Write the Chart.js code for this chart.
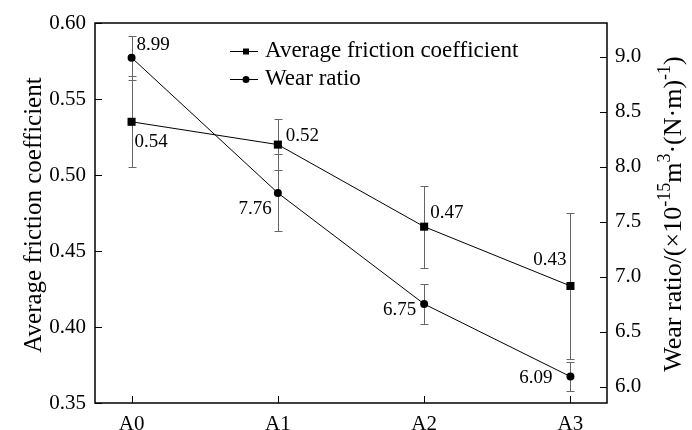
<!DOCTYPE html>
<html>
<head>
<meta charset="utf-8">
<script src="https://cdn.jsdelivr.net/npm/chart.js@4.4.1/dist/chart.umd.min.js"></script>
<style>
    html, body { margin: 0; padding: 0; background: #fff; }
    #wrap { width: 692px; height: 430px; }
</style>
</head>
<body>
<div id="wrap"><canvas id="chart" width="692" height="430"></canvas></div>
<script>
/* data */
const categories = ['A0', 'A1', 'A2', 'A3'];
const frictionValues = [0.535, 0.520, 0.466, 0.427];
const frictionErrors = [0.030, 0.017, 0.027, 0.048];
const frictionLabels = ['0.54', '0.52', '0.47', '0.43'];
const wearValues = [8.99, 7.76, 6.75, 6.09];
const wearErrors = [0.20, 0.35, 0.18, 0.13];
const wearLabels = ['8.99', '7.76', '6.75', '6.09'];
const frictionTicks = [0.35, 0.40, 0.45, 0.50, 0.55, 0.60];
const wearTicks = [6.0, 6.5, 7.0, 7.5, 8.0, 8.5, 9.0];

const FONT = '"Liberation Serif", "Times New Roman", serif';

// where each value label sits relative to its point
const frictionLabelPos = [
    { dx: 3, dy: 20, align: 'left' },
    { dx: 8, dy: -9, align: 'left' },
    { dx: 6, dy: -14, align: 'left' },
    { dx: -4, dy: -26, align: 'right' }
];
const wearLabelPos = [
    { dx: 5, dy: -13, align: 'left' },
    { dx: -6, dy: 16, align: 'right' },
    { dx: -8, dy: 6, align: 'right' },
    { dx: -18, dy: 1, align: 'right' }
];

const extras = {
    id: 'extras',
    beforeDatasetsDraw(chart) {
        const ctx = chart.ctx;
        const errs = [frictionErrors, wearErrors];
        ctx.save();
        ctx.strokeStyle = '#666';
        ctx.lineWidth = 1;
        chart.data.datasets.forEach(function(ds, i) {
            const meta = chart.getDatasetMeta(i);
            const ys = chart.scales[meta.yAxisID];
            meta.data.forEach(function(pt, j) {
                const v = ds.data[j].y;
                const x = Math.round(pt.x) + 0.5;
                const t = Math.round(ys.getPixelForValue(v + errs[i][j])) + 0.5;
                const b = Math.round(ys.getPixelForValue(v - errs[i][j])) + 0.5;
                ctx.beginPath();
                ctx.moveTo(x, t); ctx.lineTo(x, b);
                ctx.moveTo(x - 4, t); ctx.lineTo(x + 4, t);
                ctx.moveTo(x - 4, b); ctx.lineTo(x + 4, b);
                ctx.stroke();
            });
        });
        ctx.restore();
    },
    afterDatasetsDraw(chart) {
        const ctx = chart.ctx;
        const labels = [frictionLabels, wearLabels];
        const pos = [frictionLabelPos, wearLabelPos];
        ctx.save();
        ctx.font = '19px ' + FONT;
        ctx.fillStyle = '#000';
        ctx.textBaseline = 'middle';
        chart.data.datasets.forEach(function(ds, i) {
            chart.getDatasetMeta(i).data.forEach(function(pt, j) {
                const p = pos[i][j];
                ctx.textAlign = p.align;
                ctx.fillText(labels[i][j], pt.x + p.dx, pt.y + p.dy);
            });
        });
        ctx.restore();
    },
    afterDraw(chart) {
        const ctx = chart.ctx;
        const a = chart.chartArea;
        ctx.save();
        // frame
        ctx.strokeStyle = '#000';
        ctx.lineWidth = 1.5;
        ctx.strokeRect(a.left, a.top, a.right - a.left, a.bottom - a.top);
        // inward ticks
        ctx.lineWidth = 1;
        ctx.beginPath();
        chart.scales.y.ticks.forEach(function(t) {
            const y = Math.round(chart.scales.y.getPixelForValue(t.value)) + 0.5;
            ctx.moveTo(a.left, y); ctx.lineTo(a.left + 7, y);
        });
        chart.scales.y1.ticks.forEach(function(t) {
            const y = Math.round(chart.scales.y1.getPixelForValue(t.value)) + 0.5;
            ctx.moveTo(a.right - 7, y); ctx.lineTo(a.right, y);
        });
        chart.scales.x.ticks.forEach(function(t) {
            const x = Math.round(chart.scales.x.getPixelForValue(t.value)) + 0.5;
            ctx.moveTo(x, a.bottom); ctx.lineTo(x, a.bottom - 7);
        });
        ctx.stroke();

        // legend
        const rows = [{ y: 51, style: 'rect' }, { y: 79, style: 'circle' }];
        chart.data.datasets.forEach(function(ds, i) {
            const y = rows[i].y;
            ctx.beginPath();
            ctx.moveTo(230, y + 0.5); ctx.lineTo(258, y + 0.5);
            ctx.stroke();
            ctx.fillStyle = '#000';
            ctx.beginPath();
            if (rows[i].style === 'rect') {
                ctx.rect(243, y - 2.5, 6, 6);
            } else {
                ctx.arc(246, y + 0.5, 3.5, 0, Math.PI * 2);
            }
            ctx.fill();
            ctx.font = '23px ' + FONT;
            ctx.textAlign = 'left';
            ctx.textBaseline = 'middle';
            ctx.fillText(ds.label, 265, y);
        });

        // left axis title
        ctx.save();
        ctx.translate(34, 215);
        ctx.rotate(-Math.PI / 2);
        ctx.font = '25px ' + FONT;
        ctx.textAlign = 'center';
        ctx.textBaseline = 'middle';
        ctx.fillText('Average friction coefficient', 0, 0);
        ctx.restore();

        // right axis title with superscripts
        const parts = [
            ['Wear ratio/(\u00d710', false], ['-15', true], ['m', false], ['3', true],
            ['\u00b7(N\u00b7m)', false], ['-1', true], [')', false]
        ];
        const big = '26px ' + FONT, small = '18px ' + FONT;
        let total = 0;
        parts.forEach(function(p) {
            ctx.font = p[1] ? small : big;
            total += ctx.measureText(p[0]).width;
        });
        ctx.save();
        ctx.translate(673, 214);
        ctx.rotate(-Math.PI / 2);
        ctx.textAlign = 'left';
        ctx.textBaseline = 'alphabetic';
        let x = -total / 2;
        parts.forEach(function(p) {
            ctx.font = p[1] ? small : big;
            ctx.fillText(p[0], x, p[1] ? -3 : 8);
            x += ctx.measureText(p[0]).width;
        });
        ctx.restore();
        ctx.restore();
    }
};

const ctx = document.querySelector('#chart').getContext('2d');
const chart = new Chart(ctx, {
    type: 'line',
    data: {
        datasets: [{
            label: 'Average friction coefficient',
            data: frictionValues.map((v, i) => ({ x: i, y: v })),
            yAxisID: 'y',
            borderColor: '#000',
            backgroundColor: '#000',
            borderWidth: 1,
            pointStyle: 'rect',
            pointRadius: 5.7,
            pointBorderWidth: 0
        },
        {
            label: 'Wear ratio',
            data: wearValues.map((v, i) => ({ x: i, y: v })),
            yAxisID: 'y1',
            borderColor: '#000',
            backgroundColor: '#000',
            borderWidth: 1,
            pointStyle: 'circle',
            pointRadius: 4,
            pointBorderWidth: 0
        }]
    },
    options: {
        responsive: false,
        animation: false,
        devicePixelRatio: 1,
        layout: { padding: { top: 23, left: 0, right: 0, bottom: 0 } },
        plugins: {
            legend: { display: false },
            tooltip: { enabled: false }
        },
        scales: {
            x: {
                type: 'linear',
                min: -0.25,
                max: 3.25,
                afterBuildTicks: function(s) { s.ticks = categories.map((c, i) => ({ value: i })); },
                afterFit: function(s) { s.height = 27; },
                grid: { display: false, drawTicks: false },
                border: { display: false },
                ticks: {
                    padding: 9,
                    color: '#000',
                    font: { family: FONT, size: 21 },
                    callback: function(v) { return categories[v] || ''; }
                }
            },
            y: {
                position: 'left',
                min: 0.35,
                max: 0.60,
                afterBuildTicks: function(s) { s.ticks = frictionTicks.map(v => ({ value: v })); },
                afterFit: function(s) { s.width = 95; },
                grid: { display: false, drawTicks: false },
                border: { display: false },
                ticks: {
                    padding: 9,
                    color: '#000',
                    font: { family: FONT, size: 21 },
                    callback: function(v) { return v.toFixed(2); }
                }
            },
            y1: {
                position: 'right',
                min: 5.85,
                max: 9.305,
                afterBuildTicks: function(s) { s.ticks = wearTicks.map(v => ({ value: v })); },
                afterFit: function(s) { s.width = 85; },
                grid: { display: false, drawTicks: false },
                border: { display: false },
                ticks: {
                    padding: 8,
                    color: '#000',
                    font: { family: FONT, size: 21 },
                    callback: function(v) { return v.toFixed(1); }
                }
            }
        }
    },
    plugins: [extras]
});
</script>
</body>
</html>
